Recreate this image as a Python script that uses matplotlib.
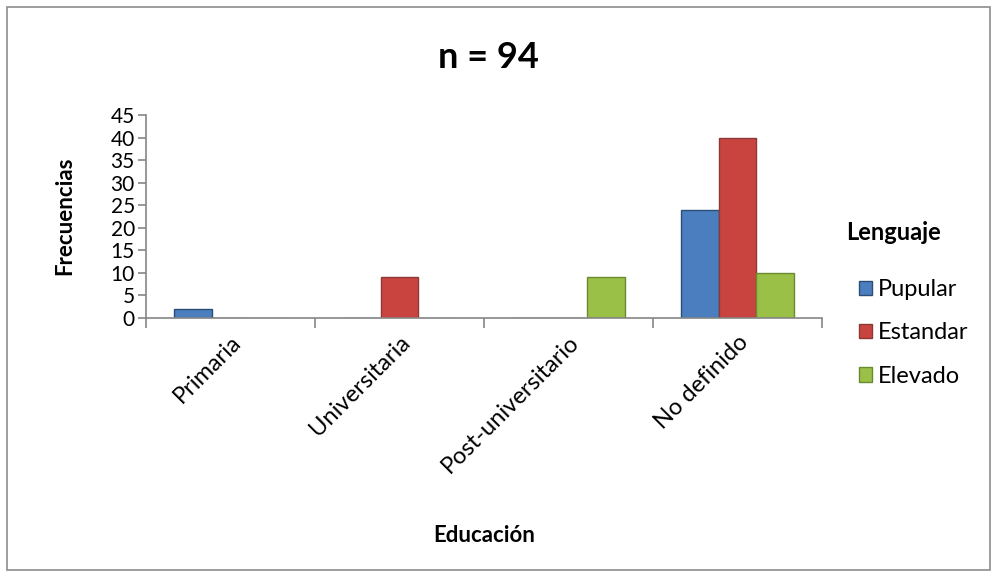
import numpy as np
import matplotlib.pyplot as plt
from matplotlib.patches import Rectangle

plt.rcParams['font.family'] = ['Lato', 'DejaVu Sans']

categorias = ["Primaria", "Universitaria", "Post-universitario", "No definido"]
series = ["Pupular", "Estandar", "Elevado"]
pupular = [2, 0, 0, 24]
estandar = [0, 9, 0, 40]
elevado = [0, 0, 9, 10]
valores = [pupular, estandar, elevado]

colores = ["#4A7EBF", "#C9443F", "#9BC047"]
bordes = ["#2C4D75", "#8C3836", "#6A8A32"]

fig = plt.figure(figsize=(9.97, 5.76), dpi=100)
fig.patches.append(Rectangle((0.007, 0.01), 0.986, 0.978, transform=fig.transFigure,
                             fill=False, edgecolor="#8c8c8c", linewidth=1.2))
ax = fig.add_axes([0.1464, 0.4479, 0.678, 0.3524])

x = np.arange(len(categorias))
ancho = 1 / 4.5
for i, (nombre, vals) in enumerate(zip(series, valores)):
    ax.bar(x + (i - 1) * ancho, vals, width=ancho, color=colores[i],
           edgecolor=bordes[i], linewidth=1.0, label=nombre)

ax.set_xlim(-0.5, len(categorias) - 0.5)
ax.set_ylim(0, 45)
ax.set_yticks(range(0, 46, 5))
ax.set_xticks(x)
ax.set_xticklabels(categorias, rotation=45, ha="right", rotation_mode="anchor")
ax.set_xticks(np.arange(-0.5, len(categorias)), minor=True)
ax.tick_params(axis="x", which="major", length=0, pad=10, labelsize=17)
ax.tick_params(axis="x", which="minor", length=7, color="#868686", width=1.2)
ax.tick_params(axis="y", length=6, color="#868686", width=1.2, labelsize=15, pad=2)

for s in ["top", "right"]:
    ax.spines[s].set_visible(False)
for s in ["left", "bottom"]:
    ax.spines[s].set_color("#868686")
    ax.spines[s].set_linewidth(1.2)

fig.text(0.065, 0.625, "Frecuencias", fontsize=16, fontweight="bold",
         rotation=90, ha="center", va="center")
fig.text(0.486, 0.071, "Educación", fontsize=16, fontweight="bold",
         ha="center", va="center")
fig.text(0.49, 0.9, "n = 94", fontsize=26, fontweight="bold",
         ha="center", va="center")

fig.text(0.849, 0.597, "Lenguaje", fontsize=17, fontweight="bold",
         ha="left", va="center")
leg = fig.legend(loc="center left", bbox_to_anchor=(0.862, 0.422), frameon=False,
                 fontsize=17, handlelength=0.55, handleheight=0.55,
                 labelspacing=0.95, handletextpad=0.25, borderpad=0,
                 borderaxespad=0)

fig.savefig("out.png", dpi=100)
